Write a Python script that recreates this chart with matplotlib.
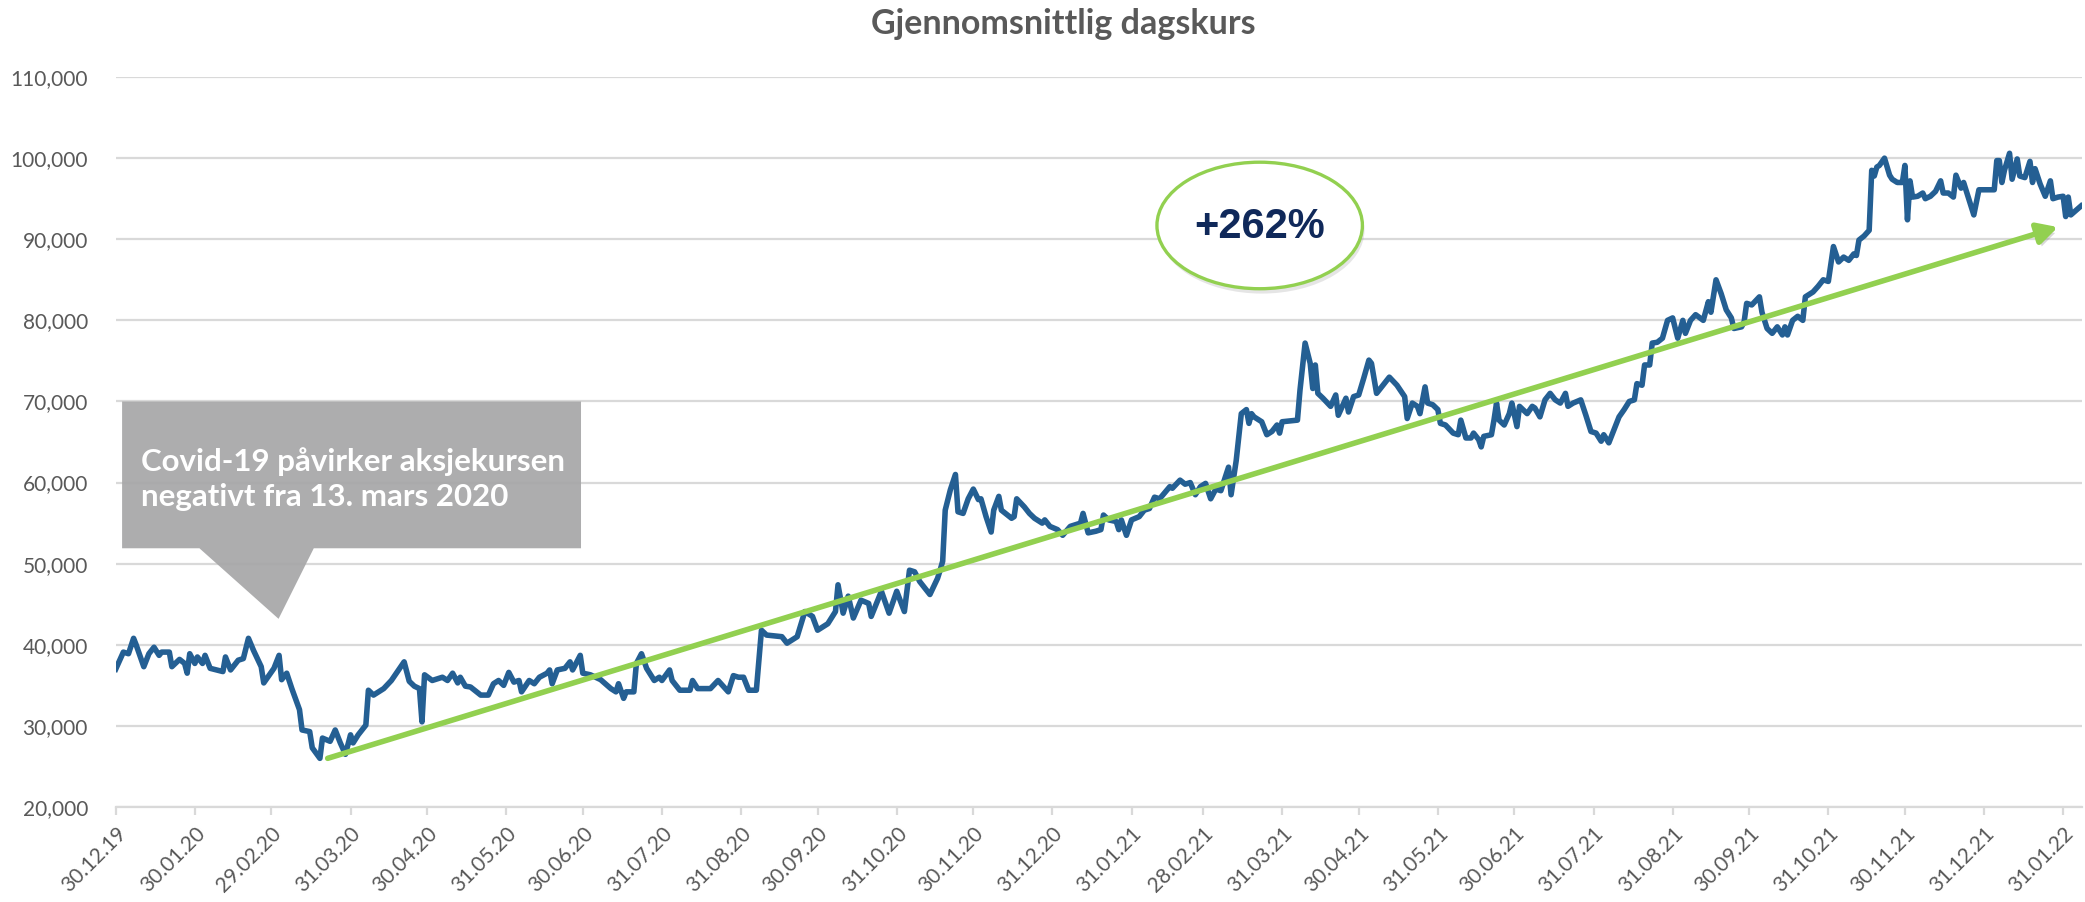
import matplotlib
matplotlib.use("Agg")
import matplotlib.pyplot as plt
import matplotlib.dates as mdates
import matplotlib.patheffects as pe
from matplotlib.patches import Ellipse, Polygon, FancyArrowPatch
from matplotlib.ticker import FuncFormatter
import pandas as pd

# Daily average share price, keyed by days after 30.12.2019
start = pd.Timestamp("2019-12-30")
day_offset = [
    0, 3, 5, 7, 8, 11, 13, 15, 17, 18, 21, 22, 25, 27, 28, 29, 31, 32, 34, 35,
    37, 42, 43, 45, 48, 50, 52, 54, 57, 58, 62, 64, 65, 67, 69, 72, 73, 76, 77, 80,
    81, 84, 86, 88, 90, 92, 93, 95, 98, 99, 101, 105, 108, 113, 115, 117, 119, 120, 121, 124,
    128, 130, 132, 134, 135, 137, 139, 143, 146, 148, 150, 152, 154, 156, 158, 159, 162, 164, 166, 169,
    170, 171, 173, 176, 178, 179, 182, 183, 186, 190, 194, 196, 197, 199, 200, 203, 204, 206, 208, 211,
    213, 214, 217, 218, 221, 225, 226, 228, 233, 236, 240, 242, 244, 246, 248, 251, 253, 255, 261, 263,
    267, 270, 273, 275, 279, 282, 283, 285, 287, 289, 292, 295, 296, 300, 303, 306, 309, 311, 313, 315,
    319, 322, 323, 324, 325, 327, 329, 330, 332, 334, 336, 338, 339, 341, 343, 344, 346, 347, 351, 352,
    353, 356, 358, 360, 363, 364, 366, 369, 371, 374, 376, 378, 379, 381, 384, 386, 387, 389, 392, 393,
    394, 396, 398, 401, 403, 405, 407, 409, 413, 414, 417, 419, 421, 423, 425, 427, 429, 431, 433, 436,
    437, 439, 441, 443, 444, 445, 446, 449, 451, 453, 455, 456, 457, 463, 464, 466, 468, 469, 470, 471,
    473, 476, 478, 479, 480, 482, 483, 485, 487, 489, 491, 492, 494, 497, 499, 502, 505, 506, 508, 510,
    511, 513, 514, 516, 518, 519, 521, 524, 526, 527, 529, 531, 532, 534, 535, 536, 539, 540, 541, 542,
    544, 546, 547, 549, 550, 553, 555, 556, 558, 560, 562, 564, 566, 568, 569, 571, 574, 576, 578, 580,
    582, 583, 585, 587, 589, 591, 593, 595, 596, 598, 599, 601, 602, 604, 606, 608, 610, 612, 614, 615,
    617, 619, 622, 624, 625, 627, 629, 631, 633, 634, 637, 638, 639, 641, 644, 645, 647, 649, 651, 653,
    654, 655, 657, 659, 661, 662, 665, 667, 669, 671, 673, 675, 677, 679, 681, 682, 683, 685, 687, 688,
    689, 690, 691, 693, 695, 696, 698, 700, 701, 702, 703, 704, 706, 708, 709, 711, 713, 715, 716, 718,
    720, 721, 723, 724, 726, 728, 730, 733, 736, 737, 738, 739, 740, 742, 743, 745, 746, 748, 750, 751,
    752, 754, 756, 758, 759, 761, 763, 764, 765, 766, 770,
]
price = [
    37000, 39100, 38900, 40800, 40000, 37300, 38900, 39700, 38700, 39100, 39100, 37300, 38200, 37700, 36500, 38900, 37700, 38500, 37700, 38700,
    37100, 36700, 38500, 36900, 38100, 38300, 40800, 39300, 37300, 35300, 37100, 38700, 35700, 36500, 34600, 32000, 29500, 29300, 27300, 26000,
    28500, 28100, 29500, 27900, 26500, 28900, 27900, 28900, 30100, 34400, 33800, 34600, 35600, 37900, 35500, 34900, 34600, 30500, 36300, 35600,
    36000, 35600, 36500, 35300, 36000, 34900, 34800, 33800, 33800, 35200, 35600, 35000, 36600, 35400, 35600, 34200, 35600, 35200, 36000, 36500,
    36900, 35200, 36900, 37100, 37900, 36900, 38700, 36500, 36300, 35700, 34600, 34200, 35200, 33400, 34200, 34200, 37700, 38900, 37100, 35600,
    36000, 35600, 36900, 35600, 34400, 34400, 35600, 34600, 34600, 35600, 34200, 36200, 36000, 36000, 34400, 34400, 41800, 41200, 41000, 40200,
    41000, 44100, 43500, 41800, 42600, 44100, 47400, 43900, 46000, 43300, 45500, 45100, 43500, 46600, 43900, 46600, 44100, 49200, 49000, 47800,
    46200, 48200, 49200, 50300, 56600, 59100, 61000, 56400, 56200, 58000, 59200, 57900, 58000, 55800, 53900, 56600, 58300, 56600, 55600, 55800,
    58000, 57000, 56200, 55600, 55000, 55400, 54600, 54200, 53500, 54600, 54800, 55000, 56200, 53800, 54000, 54200, 56000, 55400, 55200, 54200,
    55400, 53500, 55400, 55800, 56600, 56800, 58200, 58000, 59500, 59300, 60300, 59800, 60000, 58500, 59500, 59900, 58000, 59200, 59000, 61900,
    58500, 62700, 68500, 69000, 67300, 68500, 68100, 67500, 65900, 66300, 67100, 66100, 67500, 67700, 71400, 77200, 74700, 71600, 74500, 71000,
    70400, 69400, 70800, 68300, 69000, 70400, 68700, 70600, 70800, 72900, 75100, 74700, 71000, 72200, 73000, 72000, 70600, 67900, 69800, 69400,
    68500, 71800, 69800, 69600, 69000, 67300, 67100, 66100, 65900, 67700, 65500, 65500, 66100, 65300, 64400, 65700, 65900, 67700, 69800, 67700,
    67100, 68500, 69800, 66900, 69400, 68500, 69400, 69200, 68100, 70200, 71000, 70200, 69800, 71000, 69400, 69800, 70200, 68300, 66300, 66100,
    65100, 65900, 64900, 66500, 68100, 69000, 70000, 70200, 72200, 72000, 74500, 74500, 77200, 77300, 77800, 80000, 80300, 77800, 80000, 78400,
    80000, 80700, 80000, 82300, 81000, 85000, 83300, 81300, 80300, 79000, 79200, 79800, 82100, 81900, 82900, 81000, 79000, 78400, 79200, 78200,
    79200, 78200, 80000, 80500, 80000, 82900, 83500, 84200, 85000, 84800, 89100, 87200, 87800, 87400, 88200, 88000, 89900, 90400, 91100, 98500,
    97800, 98900, 99100, 100000, 97900, 97400, 97000, 97000, 99100, 92400, 97200, 95200, 95300, 95700, 95000, 95300, 95900, 97200, 95700, 95700,
    95200, 97900, 96300, 97000, 95000, 93000, 96100, 96100, 96100, 99700, 99700, 97000, 98500, 100600, 97400, 99900, 97800, 97600, 99600, 97000,
    98700, 96800, 95300, 97200, 95000, 95200, 95300, 92800, 95200, 93000, 94100,
]

tick_dates = [
    "2019-12-30", "2020-01-30", "2020-02-29", "2020-03-31", "2020-04-30", "2020-05-31",
    "2020-06-30", "2020-07-31", "2020-08-31", "2020-09-30", "2020-10-31", "2020-11-30",
    "2020-12-31", "2021-01-31", "2021-02-28", "2021-03-31", "2021-04-30", "2021-05-31",
    "2021-06-30", "2021-07-31", "2021-08-31", "2021-09-30", "2021-10-31", "2021-11-30",
    "2021-12-31", "2022-01-31",
]
y_ticks = [20000, 30000, 40000, 50000, 60000, 70000, 80000, 90000, 100000, 110000]

title = "Gjennomsnittlig dagskurs"
callout_text = "Covid-19 påvirker aksjekursen\nnegativt fra 13. mars 2020"
growth_label = "+262%"

dates = start + pd.to_timedelta(day_offset, unit="D")


def day(n):
    return mdates.date2num(start + pd.Timedelta(days=n))


fig = plt.figure(figsize=(20.85, 9.02), dpi=100)
ax = fig.add_axes([0.0555, 0.1053, 0.9432, 0.8093])

grey_txt = "#595959"
grid_col = "#d9d9d9"

ax.plot(dates, price, color="#245f93", lw=4.0, solid_joinstyle="round", zorder=3)

ax.set_xlim(day(0), day(770.5))
ax.set_ylim(20000, 110000)
ax.set_yticks(y_ticks)
ax.yaxis.set_major_formatter(FuncFormatter(lambda v, p: f"{v:,.0f}"))
ax.set_xticks(pd.to_datetime(tick_dates))
ax.xaxis.set_major_formatter(mdates.DateFormatter("%d.%m.%y"))

ax.grid(axis="y", color=grid_col, lw=1.6)
ax.set_axisbelow(True)
for s in ["top", "right", "left"]:
    ax.spines[s].set_visible(False)
ax.spines["bottom"].set_color(grid_col)
ax.spines["bottom"].set_linewidth(1.6)
ax.tick_params(axis="y", length=0, pad=20, labelsize=15, labelcolor=grey_txt)
ax.tick_params(axis="x", length=6, width=1.6, color=grid_col, pad=6,
               labelsize=15, labelcolor=grey_txt)
for lab in ax.get_xticklabels() + ax.get_yticklabels():
    lab.set_fontfamily("Lato")
for lab in ax.get_xticklabels():
    lab.set_rotation(45)
    lab.set_ha("right")
    lab.set_va("top")
    lab.set_rotation_mode("anchor")

fig.text(0.51, 0.973, title, ha="center", va="center", fontsize=24.5,
         fontweight="bold", color=grey_txt, family="Lato")

# callout box with pointer
box = Polygon([(day(2.5), 70000), (day(182.3), 70000), (day(182.3), 51900),
               (day(77.6), 51900), (day(63.8), 43200), (day(32.8), 51900),
               (day(2.5), 51900)],
              closed=True, facecolor="#a6a6a7", edgecolor="none", alpha=0.92, zorder=4)
ax.add_patch(box)
ax.text(day(9.9), 60400, callout_text, ha="left", va="center", fontsize=22.5,
        fontweight="bold", color="white", family="Lato", linespacing=1.3, zorder=5)

# trend arrow
arrow = FancyArrowPatch((day(82), 25900), (day(762), 91600),
                        arrowstyle="-|>,head_length=0.6,head_width=0.32",
                        mutation_scale=20, color="#92d050", lw=4.0, zorder=6)
arrow.set_path_effects([pe.SimplePatchShadow(offset=(2, -3), shadow_rgbFace="#7f7f7f", alpha=0.3),
                        pe.Normal()])
ax.add_patch(arrow)

# growth bubble
ell = Ellipse((day(448.2), 91700), width=80.5, height=15600, facecolor="white",
              edgecolor="#92d050", lw=2.4, zorder=7)
ell.set_path_effects([pe.SimplePatchShadow(offset=(1.5, -3.5), shadow_rgbFace="#8c8c8c", alpha=0.22),
                      pe.Normal()])
ax.add_patch(ell)
ax.text(day(448.2), 91500, growth_label, ha="center", va="center", fontsize=30,
        fontweight="bold", color="#10295a", family="Liberation Sans", zorder=8)

fig.savefig("out.png", dpi=100)
